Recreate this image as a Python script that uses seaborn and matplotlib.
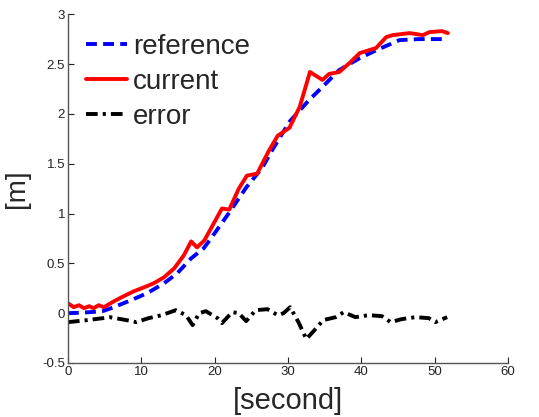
import matplotlib
matplotlib.use("Agg")
import matplotlib.pyplot as plt
import seaborn as sns
import pandas as pd

t_ref = [0, 2, 4.7, 5.9, 8.6, 10.8, 13.1, 14.9, 16.8, 18.5, 19.6, 22, 24.3, 26.5,
         27.8, 30.2, 32.9, 34.7, 37, 39.8, 42.1, 45.2, 47.9, 51.7]
ref = [0, 0.005, 0.02, 0.05, 0.13, 0.20, 0.30, 0.40, 0.55, 0.65, 0.76, 1.01, 1.26, 1.46,
       1.63, 1.92, 2.14, 2.27, 2.44, 2.56, 2.64, 2.74, 2.75, 2.75]

t_cur = [0, 0.8, 1.5, 2.2, 2.9, 3.5, 4.2, 4.9, 5.6, 6.3, 7.6, 9, 10.4, 11.7, 13.1,
         14.5, 15.8, 16.8, 17.6, 18.6, 19.5, 21, 22, 23.3, 24.4, 25.8, 27.4, 28.6,
         30.2, 31.6, 33.0, 34.7, 35.6, 37.0, 38.4, 39.8, 42.0, 43.4, 44.3, 46.6,
         48.4, 49.3, 51.0, 51.8]
cur = [0.10, 0.06, 0.08, 0.05, 0.07, 0.05, 0.08, 0.06, 0.09, 0.12, 0.17, 0.22, 0.26,
       0.30, 0.36, 0.45, 0.58, 0.72, 0.66, 0.73, 0.85, 1.05, 1.04, 1.25, 1.38, 1.40,
       1.63, 1.78, 1.86, 2.07, 2.42, 2.34, 2.40, 2.42, 2.51, 2.61, 2.66, 2.77, 2.79,
       2.81, 2.79, 2.82, 2.83, 2.81]

t_err = [0, 2.6, 4.8, 5.7, 8, 9.3, 11, 12.8, 14.7, 16.1, 17, 17.9, 18.8, 20.4, 21,
         22.4, 23.3, 24.3, 25.6, 27.2, 28.6, 29.4, 30.3, 31.5, 32.5, 33.5, 34.8, 36.5,
         37.6, 39.2, 41, 42.8, 44, 45.5, 47.4, 49.2, 50.1, 51.7]
err = [-0.09, -0.07, -0.05, -0.04, -0.07, -0.09, -0.05, -0.02, 0.03, -0.02, -0.12, 0.0,
       0.02, -0.05, -0.1, 0.01, 0.0, -0.08, 0.03, 0.04, -0.02, 0.0, 0.06, -0.1, -0.26,
       -0.18, -0.07, -0.04, 0.01, -0.04, -0.02, -0.03, -0.09, -0.06, -0.04, -0.05,
       -0.09, -0.04]

x_ticks = [0, 10, 20, 30, 40, 50, 60]
y_ticks = [-0.5, 0, 0.5, 1, 1.5, 2, 2.5, 3]
y_tick_labels = ["-0.5", "0", "0.5", "1", "1.5", "2", "2.5", "3"]

sns.set_style("ticks")
plt.rcParams['font.family'] = ['Liberation Sans', 'DejaVu Sans']

fig = plt.figure(figsize=(5.39, 4.17), dpi=100)
ax = fig.add_axes([0.126, 0.1295, 0.8165, 0.8365])

sns.lineplot(x=t_ref, y=ref, ax=ax, color=(0, 0, 1), lw=2.8,
             linestyle=(0, (2.8, 1.6)), label="reference")
sns.lineplot(x=t_cur, y=cur, ax=ax, color=(1, 0, 0), lw=2.8,
             linestyle="-", label="current")
sns.lineplot(x=t_err, y=err, ax=ax, color="black", lw=2.8,
             linestyle=(0, (3.0, 1.3, 0.8, 1.3)), label="error")

ax.set_xlim(0, 60)
ax.set_ylim(-0.5, 3)
ax.set_xticks(x_ticks)
ax.set_yticks(y_ticks)
ax.set_yticklabels(y_tick_labels)
ax.tick_params(direction="in", length=4, width=0.8, labelsize=9.5, colors="#222222",
               pad=2)
for s in ["top", "right"]:
    ax.spines[s].set_visible(False)
for s in ["left", "bottom"]:
    ax.spines[s].set_color("#555555")
    ax.spines[s].set_linewidth(1.0)

ax.set_xlabel("[second]", fontsize=21, labelpad=7)
ax.set_ylabel("[m]", fontsize=20, labelpad=9)

leg = ax.legend(loc="upper left", frameon=False, fontsize=20, handlelength=1.5,
                handletextpad=0.2, labelspacing=0.32, borderaxespad=0.0,
                bbox_to_anchor=(0.015, 0.975))

fig.savefig("out.png", dpi=100)
